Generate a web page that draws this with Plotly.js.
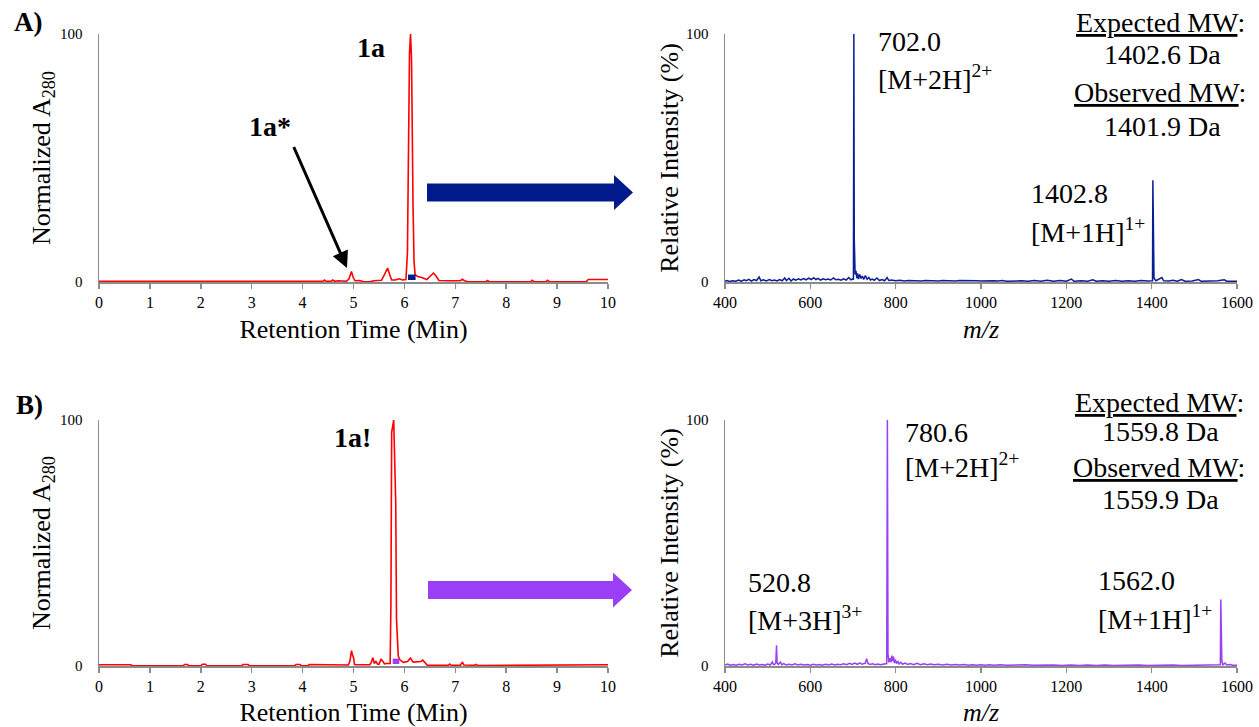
<!DOCTYPE html>
<html>
<head>
<meta charset="utf-8">
<script src="https://cdn.plot.ly/plotly-3.0.1.min.js"></script>
<style>
  html, body { margin: 0; padding: 0; background: #fff; }
  #chart { width: 1259px; height: 727px; }
</style>
</head>
<body>
<div id="chart"></div>
<script>
// ---------- HPLC traces (retention time in min, normalized A280) ----------
const chromA_t = [0, 4.40, 4.43, 4.46, 4.56, 4.59, 4.63, 4.70, 4.86, 4.91,
                  4.96, 4.99, 5.03, 5.12, 5.20, 5.32, 5.40, 5.55, 5.62, 5.67,
                  5.71, 5.75, 5.82, 5.90, 5.96, 6.03, 6.06, 6.08, 6.10, 6.12,
                  6.14, 6.17, 6.19, 6.21, 6.26, 6.34, 6.44, 6.52, 6.57, 6.62,
                  6.68, 6.85, 7.10, 7.14, 7.18, 7.25, 7.60, 7.63, 7.67, 8.48,
                  8.51, 8.55, 8.78, 8.81, 8.85, 9.58, 9.61, 10];
const chromA_v = [0.3, 0.3, 0.8, 0.3, 0.3, 0.8, 0.3, 0.5, 0.3, 1.2,
                  4.2, 2.0, 0.5, 0.6, 0.1, 0.1, 0.5, 0.7, 3.5, 5.6,
                  3.0, 0.8, 0.8, 1.3, 0.8, 1.0, 12, 60, 92, 100,
                  90, 30, 8, 3, 2.2, 1.8, 1.0, 2.6, 3.6, 2.4,
                  0.6, 0.5, 0.5, 1.1, 0.5, 0.1, 0.1, 0.6, 0.1, 0.1,
                  0.7, 0.1, 0.1, 0.7, 0.1, 0.2, 1.0, 1.0];

const chromB_t = [0, 0.62, 0.66, 1.65, 1.68, 1.74, 1.77, 2.00, 2.03, 2.09,
                  2.12, 2.80, 2.83, 2.93, 2.96, 3.84, 3.87, 3.95, 3.98, 4.10,
                  4.13, 4.26, 4.29, 4.90, 4.93, 4.96, 4.98, 5.00, 5.02, 5.05,
                  5.32, 5.35, 5.38, 5.41, 5.44, 5.47, 5.50, 5.54, 5.57, 5.61,
                  5.64, 5.68, 5.72, 5.735, 5.75, 5.79, 5.83, 5.845, 5.86, 5.88,
                  5.91, 5.98, 6.06, 6.12, 6.17, 6.26, 6.32, 6.36, 6.40, 6.45,
                  6.86, 6.89, 6.92, 7.10, 7.14, 7.17, 7.38, 7.41, 7.44, 8.73,
                  8.76, 10];
const chromB_v = [0.5, 0.5, 0.1, 0.1, 0.6, 0.6, 0.1, 0.1, 0.7, 0.7,
                  0.1, 0.1, 0.6, 0.6, 0.1, 0.1, 0.6, 0.6, 0.1, 0.1,
                  0.6, 0.6, 0.4, 0.4, 2.0, 6.2, 4.5, 3.5, 0.6, 0.5,
                  0.5, 1.5, 3.4, 1.0, 2.0, 0.8, 0.7, 2.8, 2.0, 0.9,
                  1.0, 0.9, 1.0, 25, 95, 100, 66, 19, 8, 4,
                  2.5, 1.5, 1.8, 3.2, 1.6, 1.7, 1.8, 2.4, 1.6, 0.3,
                  0.3, 0.8, 0.3, 0.3, 1.6, 0.4, 0.3, 0.6, 0.2, 0.2,
                  0.5, 0.5];

// collected fraction windows (min)
const fractionA = [6.07, 6.22];
const fractionB = [5.77, 5.90];

// ---------- ESI mass spectra (m/z, relative intensity %) ----------
const specA_mz = [400, 405, 410, 418, 425, 432, 438, 445, 450, 456,
                  462, 468, 474, 480, 484, 490, 497, 504, 510, 516,
                  522, 528, 534, 540, 544, 550, 555, 560, 566, 572,
                  578, 584, 590, 596, 602, 608, 613, 618, 624, 630,
                  636, 642, 648, 654, 660, 666, 672, 678, 684, 690,
                  695, 699, 701, 702.0, 703, 704, 705, 707, 709, 711,
                  713, 716, 719, 722, 725, 729, 733, 737, 741, 745,
                  750, 756, 762, 768, 774, 780, 784, 790, 800, 810,
                  820, 830, 840, 850, 860, 870, 880, 890, 900, 910,
                  920, 930, 940, 950, 960, 970, 980, 990, 1000, 1010,
                  1020, 1030, 1040, 1050, 1060, 1070, 1080, 1095, 1110, 1125,
                  1140, 1155, 1170, 1185, 1200, 1212, 1218, 1235, 1250, 1262,
                  1270, 1285, 1300, 1315, 1330, 1345, 1360, 1375, 1390, 1402,
                  1402.8, 1403.6, 1404.5, 1405.5, 1410, 1420, 1424, 1428, 1440, 1450,
                  1460, 1470, 1478, 1495, 1510, 1516, 1540, 1555, 1570, 1576,
                  1600];
const specA_int = [0.3, 0.6, 0.2, 0.5, 0.3, 0.8, 0.3, 0.9, 0.5, 1.1,
                   0.4, 1.0, 0.6, 2.0, 0.5, 0.9, 0.4, 1.0, 0.5, 0.8,
                   0.4, 1.0, 0.5, 1.6, 0.6, 1.5, 0.4, 1.2, 0.7, 1.3,
                   0.8, 1.4, 0.9, 1.6, 1.0, 1.7, 1.0, 1.5, 0.8, 1.3,
                   0.9, 1.2, 0.8, 1.6, 0.9, 1.1, 0.7, 1.3, 0.8, 1.8,
                   0.9, 1.2, 1.0, 100, 17, 9, 3, 4.5, 1.5, 3.5,
                   1.2, 3.0, 1.4, 2.4, 1.0, 2.6, 1.1, 1.8, 0.8, 1.2,
                   0.7, 1.6, 0.6, 1.0, 0.5, 1.8, 0.6, 0.8, 0.5, 0.7,
                   0.4, 0.6, 0.5, 0.7, 0.4, 0.6, 0.5, 0.7, 0.4, 0.6,
                   0.5, 0.6, 0.4, 0.6, 0.5, 0.6, 0.4, 0.5, 0.4, 0.5,
                   0.3, 0.5, 0.4, 0.6, 0.3, 0.4, 0.3, 0.5, 0.3, 0.6,
                   0.3, 0.7, 0.3, 0.6, 0.3, 1.2, 0.3, 0.5, 0.3, 0.9,
                   0.3, 0.5, 0.3, 0.6, 0.3, 0.5, 0.3, 0.6, 0.4, 0.5,
                   41, 18, 6, 1.5, 0.5, 1.2, 1.8, 0.5, 0.4, 0.7,
                   0.3, 1.0, 0.3, 0.4, 1.0, 0.3, 0.3, 0.5, 0.9, 0.3,
                   0.3];

const specB_mz = [400, 406, 412, 419, 426, 433, 440, 447, 453, 460,
                  467, 474, 480, 487, 494, 500, 506, 511, 514, 519,
                  520.8, 522, 525, 530, 533, 538, 543, 550, 557, 564,
                  571, 578, 585, 592, 600, 607, 614, 621, 628, 636,
                  643, 650, 657, 664, 671, 678, 685, 692, 698, 704,
                  710, 716, 721, 726, 729, 732, 735, 740, 746, 752,
                  758, 764, 770, 776, 779, 780.6, 782, 784, 787, 789,
                  791, 793, 795, 797, 799, 802, 805, 808, 812, 816,
                  822, 828, 835, 842, 850, 858, 866, 874, 882, 890,
                  900, 910, 920, 930, 940, 950, 960, 970, 980, 990,
                  1000, 1010, 1020, 1030, 1045, 1060, 1075, 1090, 1105, 1120,
                  1135, 1150, 1170, 1190, 1210, 1230, 1250, 1270, 1290, 1310,
                  1330, 1350, 1370, 1390, 1410, 1430, 1450, 1470, 1490, 1510,
                  1530, 1550, 1561, 1562.0, 1562.8, 1563.6, 1564.5, 1567, 1572, 1576,
                  1584, 1590, 1600];
const specB_int = [0.4, 0.8, 0.3, 0.6, 0.3, 0.7, 0.4, 0.9, 0.4, 0.7,
                   0.3, 0.8, 0.4, 0.6, 0.3, 0.8, 0.4, 1.6, 0.5, 1.0,
                   8.4, 1.5, 0.6, 1.6, 0.5, 1.0, 0.4, 0.7, 0.4, 0.9,
                   0.4, 0.7, 0.4, 0.6, 0.3, 0.7, 0.4, 0.6, 0.3, 0.7,
                   0.4, 0.8, 0.4, 0.7, 0.5, 0.9, 0.5, 1.1, 0.6, 1.2,
                   0.7, 1.3, 0.7, 1.0, 1.2, 3.0, 1.0, 0.6, 0.9, 0.5,
                   0.8, 0.5, 0.7, 0.6, 1.0, 100, 5, 1.5, 3.2, 1.5,
                   4.2, 2.0, 3.8, 1.2, 2.6, 1.0, 2.0, 0.8, 1.5, 0.7,
                   1.2, 0.6, 1.0, 0.5, 1.1, 0.5, 0.9, 0.5, 0.8, 0.5,
                   0.7, 0.4, 0.7, 0.4, 0.6, 0.4, 0.6, 0.3, 0.5, 0.3,
                   0.5, 0.3, 0.5, 0.3, 0.5, 0.3, 0.4, 0.3, 0.5, 0.3,
                   0.4, 0.3, 0.4, 0.2, 0.4, 0.2, 0.4, 0.2, 0.4, 0.2,
                   0.3, 0.2, 0.4, 0.2, 0.3, 0.2, 0.4, 0.2, 0.3, 0.2,
                   0.4, 0.3, 0.5, 27, 14, 8, 2, 0.5, 1.2, 0.4,
                   0.6, 0.3, 0.3];

// ---------- tick labels ----------
const timeTicks = [0, 1, 2, 3, 4, 5, 6, 7, 8, 9, 10];
const mzTicks = [400, 600, 800, 1000, 1200, 1400, 1600];
const yTicks = [0, 100];

// ---------- styling ----------
const W = 1259, H = 727;
const SERIF = 'Liberation Serif';
const RED = '#ff0000';
const BLUE = '#0a1f96';
const BLUE_ARROW = '#001a8c';
const PURPLE = '#9b3ff7';
const AXIS_GREY = '#8c8c8c';

// pixel helpers for the page layout
const px = v => v / W;
const py = v => 1 - v / H;

const traces = [
  {x: chromA_t, y: chromA_v, xaxis: 'x', yaxis: 'y', type: 'scatter', mode: 'lines',
   line: {color: RED, width: 1.6}, hoverinfo: 'x+y'},
  {x: specA_mz, y: specA_int, xaxis: 'x2', yaxis: 'y2', type: 'scatter', mode: 'lines',
   line: {color: BLUE, width: 1.5}, hoverinfo: 'x+y'},
  {x: chromB_t, y: chromB_v, xaxis: 'x3', yaxis: 'y3', type: 'scatter', mode: 'lines',
   line: {color: RED, width: 1.6}, hoverinfo: 'x+y'},
  {x: specB_mz, y: specB_int, xaxis: 'x4', yaxis: 'y4', type: 'scatter', mode: 'lines',
   line: {color: PURPLE, width: 1.5}, hoverinfo: 'x+y'}
];

function xAxis(domain, anchor, range, ticks, title, standoff) {
  return {
    domain: domain, anchor: anchor, range: range,
    tickmode: 'array', tickvals: ticks,
    showline: true, linecolor: AXIS_GREY, linewidth: 1.5,
    ticks: 'outside', ticklen: 5, tickwidth: 1.5, tickcolor: AXIS_GREY,
    ticklabelstandoff: 0,
    showgrid: false, zeroline: false, layer: 'below traces',
    tickfont: {family: SERIF, size: 16, color: '#000'},
    title: {text: title, font: {family: SERIF, size: 26, color: '#000'}, standoff: standoff}
  };
}
function yAxis(domain, anchor, title, standoff) {
  return {
    domain: domain, anchor: anchor, range: [0, 100],
    tickmode: 'array', tickvals: yTicks,
    showline: true, linecolor: AXIS_GREY, linewidth: 1.5,
    ticks: '', ticklabelstandoff: 12,
    showgrid: false, zeroline: false, layer: 'below traces',
    tickfont: {family: SERIF, size: 15, color: '#000'},
    title: {text: title, font: {family: SERIF, size: 26, color: '#000'}, standoff: standoff}
  };
}

const leftX = [px(99), px(608)];
const rightX = [px(725), px(1237)];
const topY = [py(282), py(34)];
const botY = [py(666), py(420)];

// annotation builder (page-pixel placement)
function label(text, x, y, opts) {
  opts = opts || {};
  return Object.assign({
    text: text, xref: 'paper', yref: 'paper', x: px(x), y: py(y),
    xanchor: 'left', yanchor: 'middle', showarrow: false,
    font: {family: SERIF, size: 28, color: '#000'}
  }, opts);
}
const bold = (size) => ({family: SERIF, size: size, color: '#000', weight: 'bold'});

const annotations = [
  label('<b>A)</b>', 28, 22, {xanchor: 'center', font: bold(27)}),
  label('<b>B)</b>', 29, 405, {xanchor: 'center', font: bold(27)}),
  label('<b>1a</b>', 371, 48, {xanchor: 'center', font: bold(28)}),
  label('<b>1a*</b>', 270, 127, {xanchor: 'center', font: bold(28)}),
  label('<b>1a!</b>', 352, 437, {xanchor: 'center', font: bold(28)}),
  // pointer to the minor 1a* peak
  {text: ' ', xref: 'paper', yref: 'paper', x: px(347), y: py(268),
   showarrow: true, arrowhead: 2, arrowsize: 1.1, arrowwidth: 3, arrowcolor: '#000',
   ax: -55, ay: -125, standoff: 0, font: {family: SERIF, size: 4}},

  // panel A spectrum
  label('702.0', 876, 41),
  label('[M+2H]<sup>2+</sup>', 876, 77),
  label('1402.8', 1029, 193),
  label('[M+1H]<sup>1+</sup>', 1029, 230),
  label('<u>Expected MW</u>:', 1160, 23, {xanchor: 'center'}),
  label('1402.6 Da', 1162, 54, {xanchor: 'center'}),
  label('<u>Observed MW</u>:', 1160, 92, {xanchor: 'center'}),
  label('1401.9 Da', 1162, 126, {xanchor: 'center'}),

  // panel B spectrum
  label('780.6', 903, 432),
  label('[M+2H]<sup>2+</sup>', 903, 465),
  label('520.8', 746, 582),
  label('[M+3H]<sup>3+</sup>', 746, 618),
  label('1562.0', 1096, 580),
  label('[M+1H]<sup>1+</sup>', 1096, 617),
  label('<u>Expected MW</u>:', 1159, 402, {xanchor: 'center'}),
  label('1559.8 Da', 1160, 431, {xanchor: 'center'}),
  label('<u>Observed MW</u>:', 1159, 467, {xanchor: 'center'}),
  label('1559.9 Da', 1160, 499, {xanchor: 'center'})
];

// block arrow leading from the collected fraction to its spectrum
function blockArrow(x0, xNeck, xTip, yc, shaftHalf, headHalf) {
  const pts = [[x0, yc - shaftHalf], [xNeck, yc - shaftHalf], [xNeck, yc - headHalf],
               [xTip, yc], [xNeck, yc + headHalf], [xNeck, yc + shaftHalf], [x0, yc + shaftHalf]];
  return 'M ' + pts.map(p => px(p[0]).toFixed(5) + ',' + py(p[1]).toFixed(5)).join(' L ') + ' Z';
}

const shapes = [
  {type: 'path', xref: 'paper', yref: 'paper', path: blockArrow(427, 614, 633, 192.5, 9, 17.5),
   fillcolor: BLUE_ARROW, line: {width: 0}},
  {type: 'path', xref: 'paper', yref: 'paper', path: blockArrow(428, 613, 632, 590, 9, 17.5),
   fillcolor: PURPLE, line: {width: 0}},
  {type: 'rect', xref: 'x', yref: 'y', x0: fractionA[0], x1: fractionA[1], y0: 0.8, y1: 3,
   fillcolor: BLUE_ARROW, line: {width: 0}},
  {type: 'rect', xref: 'x3', yref: 'y3', x0: fractionB[0], x1: fractionB[1], y0: 0.8, y1: 3,
   fillcolor: PURPLE, line: {width: 0}}
];

const layout = {
  width: W, height: H, autosize: false,
  margin: {l: 0, r: 0, t: 0, b: 0},
  paper_bgcolor: '#fff', plot_bgcolor: 'rgba(0,0,0,0)',
  showlegend: false,
  font: {family: SERIF, color: '#000'},
  xaxis:  xAxis(leftX,  'y',  [0, 10],     timeTicks, 'Retention Time (Min)', 10),
  yaxis:  yAxis(topY,   'x',  'Normalized A<sub>280</sub>', 2),
  xaxis2: xAxis(rightX, 'y2', [400, 1600], mzTicks,   '<i>m/z</i>', 10),
  yaxis2: yAxis(topY,   'x2', 'Relative Intensity (%)', 0),
  xaxis3: xAxis(leftX,  'y3', [0, 10],     timeTicks, 'Retention Time (Min)', 10),
  yaxis3: yAxis(botY,   'x3', 'Normalized A<sub>280</sub>', 2),
  xaxis4: xAxis(rightX, 'y4', [400, 1600], mzTicks,   '<i>m/z</i>', 10),
  yaxis4: yAxis(botY,   'x4', 'Relative Intensity (%)', 0),
  annotations: annotations,
  shapes: shapes
};

Plotly.newPlot('chart', traces, layout, {displayModeBar: false, staticPlot: true});
</script>
</body>
</html>
